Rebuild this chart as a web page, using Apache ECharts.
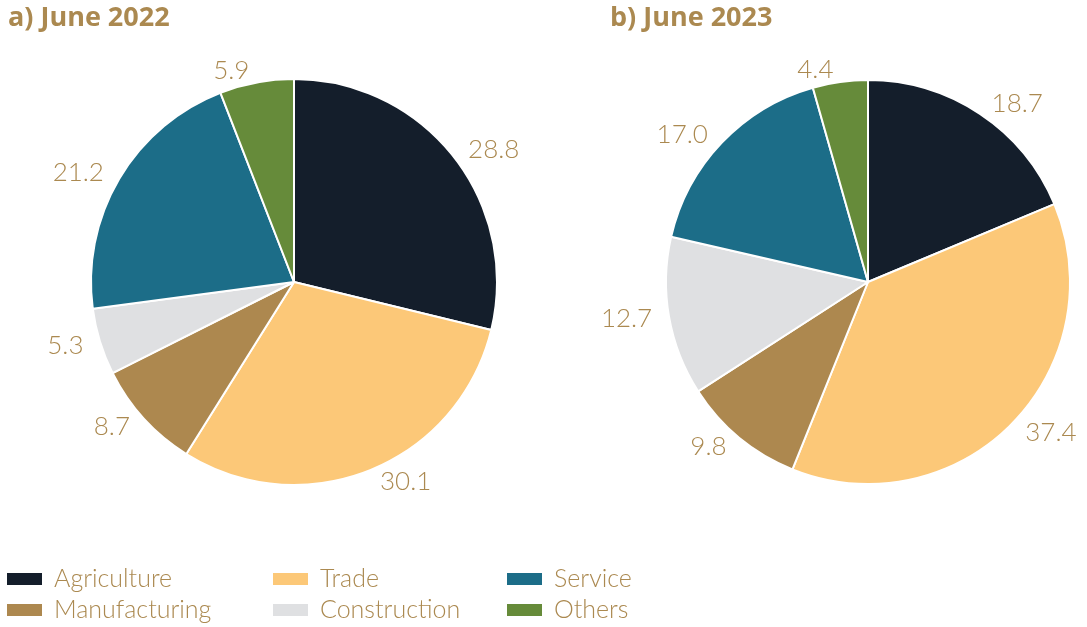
<!DOCTYPE html>
<html>
<head>
<meta charset="utf-8">
<script src="https://cdn.jsdelivr.net/npm/echarts@6/dist/echarts.min.js"></script>
<style>
  html, body { margin: 0; padding: 0; background: #fff; }
  #chart { width: 1087px; height: 627px; }
</style>
</head>
<body>
<div id="chart"></div>
<script>
// sectors, clockwise from 12 o'clock
var sectors = ['Agriculture', 'Trade', 'Manufacturing', 'Construction', 'Service', 'Others'];
var share2022 = [28.8, 30.1, 8.7, 5.3, 21.2, 5.9];
var share2023 = [18.7, 37.4, 9.8, 12.7, 17.0, 4.4];
var panelTitles = ['a) June 2022', 'b) June 2023'];

var colors = ['#141e2b', '#fcc878', '#ad884f', '#dfe0e2', '#1c6d88', '#668b3a'];
var gold = '#ab8950';
var fontFam = 'Lato, "Open Sans", sans-serif';

function toData(vals) {
    var out = [];
    for (var i = 0; i < sectors.length; i++) {
        out.push({ name: sectors[i], value: vals[i] });
    }
    return out;
}

function pieSeries(vals, cx, r) {
    return {
        type: 'pie',
        center: [cx, 282],
        radius: r,
        startAngle: 90,
        clockwise: true,
        avoidLabelOverlap: false,
        itemStyle: { borderColor: '#fff', borderWidth: 2 },
        label: {
            show: true,
            position: 'outside',
            color: gold,
            fontFamily: fontFam,
            fontWeight: 300,
            fontSize: 26,
            formatter: function (p) { return p.value.toFixed(1); }
        },
        labelLine: { show: false, length: 12, length2: 0 },
        emphasis: { disabled: true },
        data: toData(vals)
    };
}

// one legend per entry so the 3x2 grid lines up like the original
function legendItem(name, x, y) {
    return {
        orient: 'horizontal',
        left: x,
        top: y,
        padding: 0,
        itemWidth: 37,
        itemHeight: 14,
        icon: 'rect',
        selectedMode: false,
        textStyle: { color: gold, fontSize: 25, lineHeight: 28, fontFamily: fontFam, fontWeight: 300, padding: [0, 0, 0, 6] },
        data: [name]
    };
}

var titleStyle = { color: gold, fontSize: 27, fontWeight: 'bold', fontFamily: '"Open Sans", sans-serif' };

var chart = echarts.init(document.getElementById('chart'));
var option = {
    color: colors,
    animation: false,
    title: [
        { text: panelTitles[0], left: 3, top: 0, textStyle: titleStyle },
        { text: panelTitles[1], left: 605, top: 0, textStyle: titleStyle }
    ],
    legend: [
        legendItem(sectors[0], 5, 565),
        legendItem(sectors[1], 271, 565),
        legendItem(sectors[4], 505, 565),
        legendItem(sectors[2], 5, 596),
        legendItem(sectors[3], 271, 596),
        legendItem(sectors[5], 505, 596)
    ],
    series: [
        pieSeries(share2022, 294, 203),
        pieSeries(share2023, 868, 202)
    ]
};
chart.setOption(option);
</script>
</body>
</html>
